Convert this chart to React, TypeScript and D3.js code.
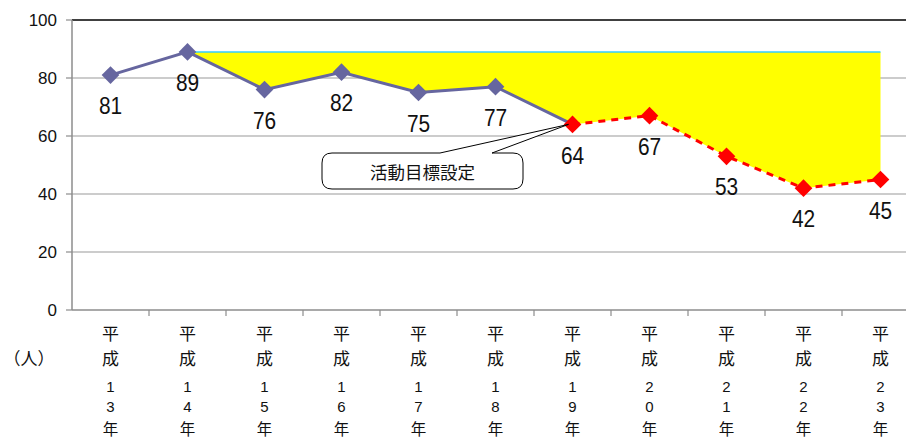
import { useEffect, useRef } from 'react'
import * as d3 from 'd3'

const years = ['13', '14', '15', '16', '17', '18', '19', '20', '21', '22', '23']
const values = [81, 89, 76, 82, 75, 77, 64, 67, 53, 42, 45]
const actualCount = 7 // 平成13〜19年: 実績
const target = 89
const yTicks = [0, 20, 40, 60, 80, 100]
const calloutText = '活動目標設定'
const unitLabel = '（人）'

const NUM_FONT = '"Liberation Sans", Arial, sans-serif'
const JP_FONT = '"Noto Sans CJK JP", "Noto Sans", sans-serif'

export default function App() {
  const svgRef = useRef<SVGSVGElement>(null)

  useEffect(() => {
    const svg = d3.select(svgRef.current)
    svg.selectAll('*').remove()

    const m = { top: 20, left: 72 }
    const band = 77
    const innerH = 290

    const x = d3.scaleBand<string>().domain(years).range([m.left, m.left + band * years.length])
    const cx = (i: number) => (x(years[i]) as number) + x.bandwidth() / 2
    const y = d3.scaleLinear().domain([0, 100]).range([m.top + innerH, m.top])

    // gridlines
    yTicks.slice(1).forEach(t => {
      svg.append('line')
        .attr('x1', m.left).attr('x2', 906)
        .attr('y1', y(t)).attr('y2', y(t))
        .attr('stroke', t === 100 ? '#000' : '#9a9a9a')
        .attr('stroke-width', t === 100 ? 1.5 : 1.2)
    })

    // yellow gap area between target and values
    const gapData = values.map((v, i) => ({ i, v })).slice(1)
    const area = d3.area<{ i: number; v: number }>()
      .x(d => cx(d.i))
      .y0(d => y(d.v))
      .y1(() => y(target))
    svg.append('path').attr('d', area(gapData)).attr('fill', '#ffff00')

    svg.append('line')
      .attr('x1', cx(1)).attr('x2', cx(values.length - 1))
      .attr('y1', y(target)).attr('y2', y(target))
      .attr('stroke', '#33ccff').attr('stroke-width', 1.5)

    // axes
    svg.append('line').attr('x1', m.left).attr('x2', m.left)
      .attr('y1', y(100)).attr('y2', y(0)).attr('stroke', '#8c8c8c').attr('stroke-width', 1.5)
    svg.append('line').attr('x1', m.left).attr('x2', 906)
      .attr('y1', y(0)).attr('y2', y(0)).attr('stroke', '#8c8c8c').attr('stroke-width', 1.5)
    yTicks.forEach(t => {
      svg.append('line').attr('x1', m.left - 6).attr('x2', m.left)
        .attr('y1', y(t)).attr('y2', y(t)).attr('stroke', '#8c8c8c').attr('stroke-width', 1.2)
      svg.append('text')
        .attr('x', 57).attr('y', y(t)).attr('dy', '0.36em')
        .attr('text-anchor', 'end')
        .attr('font-family', NUM_FONT).attr('font-size', 17).attr('fill', '#111')
        .text(t)
    })
    years.forEach((_, i) => {
      const bx = (x(years[i]) as number) + band
      svg.append('line').attr('x1', bx).attr('x2', bx)
        .attr('y1', y(0)).attr('y2', y(0) + 6).attr('stroke', '#8c8c8c').attr('stroke-width', 1.2)
    })

    // x labels (vertical)
    years.forEach((yr, i) => {
      const chars = [
        ['平', 334, 17, JP_FONT],
        ['成', 359, 17, JP_FONT],
        [yr[0], 387, 15, NUM_FONT],
        [yr[1], 407, 15, NUM_FONT],
        ['年', 429, 15.5, JP_FONT]
      ] as [string, number, number, string][]
      chars.forEach(([c, yy, fs, ff]) => {
        svg.append('text')
          .attr('x', cx(i)).attr('y', yy)
          .attr('text-anchor', 'middle').attr('dy', '0.36em')
          .attr('font-family', ff).attr('font-size', fs).attr('fill', '#111')
          .text(c)
      })
    })
    svg.append('text')
      .attr('x', 29).attr('y', 359).attr('dy', '0.36em').attr('text-anchor', 'middle')
      .attr('font-family', JP_FONT).attr('font-size', 17).attr('fill', '#111')
      .text(unitLabel)

    // lines
    const line = d3.line<number>().x((_, i) => cx(i)).y(d => y(d))
    const actual = values.slice(0, actualCount)
    svg.append('path').attr('d', line(actual)).attr('fill', 'none')
      .attr('stroke', '#66669f').attr('stroke-width', 3)
    const plan = d3.line<number>().x((_, i) => cx(i + actualCount - 1)).y(d => y(d))
    svg.append('path').attr('d', plan(values.slice(actualCount - 1))).attr('fill', 'none')
      .attr('stroke', '#ff0000').attr('stroke-width', 3).attr('stroke-dasharray', '7,6')

    // markers
    const diamond = d3.symbol().type(d3.symbolDiamond2).size(200)
    values.forEach((v, i) => {
      svg.append('path')
        .attr('d', diamond())
        .attr('transform', `translate(${cx(i)},${y(v)})`)
        .attr('fill', i < actualCount - 1 ? '#66669f' : '#ff0000')
    })

    // data labels
    values.forEach((v, i) => {
      svg.append('text')
        .attr('transform', `translate(${cx(i)},${y(v) + 30.5}) scale(0.87,1)`)
        .attr('dy', '0.36em').attr('text-anchor', 'middle')
        .attr('font-family', NUM_FONT).attr('font-size', 24).attr('fill', '#111')
        .text(v)
    })

    // callout
    const tipX = cx(actualCount - 1) - 4
    const tipY = y(values[actualCount - 1])
    const L = 322, R = 523, T = 153, B = 189, r = 10
    const path = [
      `M${L + r},${T}`,
      `L440,${T}`,
      `L${tipX},${tipY}`,
      `L492,${T}`,
      `L${R - r},${T}`,
      `Q${R},${T} ${R},${T + r}`,
      `L${R},${B - r}`,
      `Q${R},${B} ${R - r},${B}`,
      `L${L + r},${B}`,
      `Q${L},${B} ${L},${B - r}`,
      `L${L},${T + r}`,
      `Q${L},${T} ${L + r},${T}`,
      'Z'
    ].join(' ')
    svg.append('path').attr('d', path).attr('fill', '#fff')
      .attr('stroke', '#000').attr('stroke-width', 1)
    svg.append('text')
      .attr('x', (L + R) / 2).attr('y', (T + B) / 2 + 2)
      .attr('dy', '0.36em').attr('text-anchor', 'middle')
      .attr('font-family', JP_FONT).attr('font-size', 17.5).attr('fill', '#111')
      .text(calloutText)
  }, [])

  return (
    <svg ref={svgRef} width={906} height={440}
      style={{ position: 'absolute', left: 0, top: 0, background: '#fff' }} />
  )
}
